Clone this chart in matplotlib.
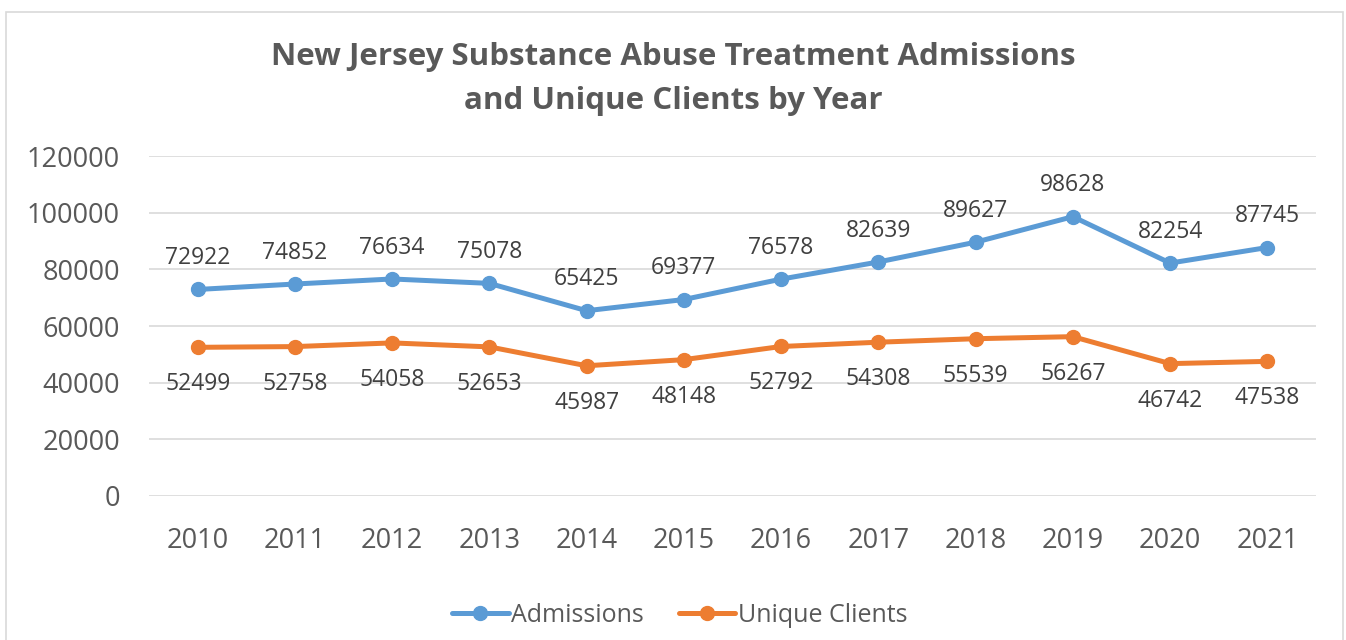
import matplotlib.pyplot as plt
import matplotlib.patches as patches

years = ['2010', '2011', '2012', '2013', '2014', '2015', '2016', '2017', '2018', '2019', '2020', '2021']
admissions = [72922, 74852, 76634, 75078, 65425, 69377, 76578, 82639, 89627, 98628, 82254, 87745]
unique_clients = [52499, 52758, 54058, 52653, 45987, 48148, 52792, 54308, 55539, 56267, 46742, 47538]
y_ticks = [0, 20000, 40000, 60000, 80000, 100000, 120000]

plt.rcParams['font.family'] = ['Open Sans', 'DejaVu Sans']

blue = '#5B9BD5'
orange = '#ED7D31'
text_gray = '#595959'
label_gray = '#404040'

fig = plt.figure(figsize=(13.46, 6.4), dpi=100)
ax = fig.add_axes([0.1107, 0.225, 0.867, 0.531])

# 图表外框
fig.patches.append(patches.Rectangle((6 / 1346, -0.05), 1337 / 1346, 1.04 - 6 / 640,
                                     transform=fig.transFigure, fill=False,
                                     edgecolor='#D9D9D9', linewidth=1.2))

x = range(len(years))
ax.plot(x, admissions, color=blue, linewidth=3.6, marker='o', markersize=10,
        label='Admissions', solid_capstyle='round')
ax.plot(x, unique_clients, color=orange, linewidth=3.6, marker='o', markersize=10,
        label='Unique Clients', solid_capstyle='round')

# 数据标签
for i in x:
    ax.annotate(str(admissions[i]), (i, admissions[i]), xytext=(0, 14),
                textcoords='offset points', ha='center', va='bottom',
                fontsize=16.5, color=label_gray)
    ax.annotate(str(unique_clients[i]), (i, unique_clients[i]), xytext=(0, -18),
                textcoords='offset points', ha='center', va='top',
                fontsize=16.5, color=label_gray)

ax.set_xlim(-0.5, len(years) - 0.5)
ax.set_ylim(0, 120000)
ax.set_yticks(y_ticks)
ax.set_xticks(list(x))
ax.set_xticklabels(years)
ax.tick_params(axis='both', length=0, labelsize=19.5, colors=text_gray)
ax.tick_params(axis='y', pad=21)
ax.tick_params(axis='x', pad=22)
ax.grid(axis='y', color='#D9D9D9', linewidth=1.2)
ax.set_axisbelow(True)
for s in ax.spines.values():
    s.set_visible(False)

fig.text(0.5, 0.877, 'New Jersey Substance Abuse Treatment Admissions\nand Unique Clients by Year',
         ha='center', va='center', fontsize=22.5, fontweight='bold', color=text_gray,
         linespacing=1.6)

fig.legend(loc='center', bbox_to_anchor=(0.505, 0.038), ncol=2, frameon=False,
           fontsize=18, labelcolor=text_gray, handlelength=2.25, handletextpad=0.1,
           columnspacing=1.4)

plt.savefig('out.png', dpi=100)
